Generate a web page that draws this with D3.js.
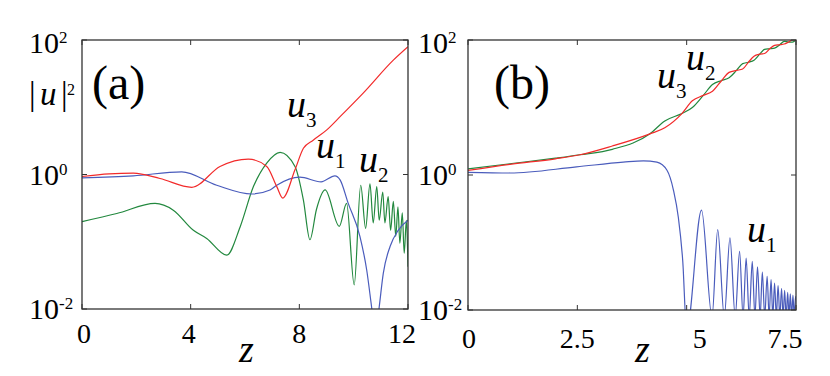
<!DOCTYPE html>
<html>
<head>
<meta charset="utf-8">
<script src="https://cdn.jsdelivr.net/npm/d3@7"></script>
</head>
<body style="margin:0">
<div id="chart"></div>
<script>
// values are [z, log10 |u|^2]
const a_u1 = [[0,-0.05],[1.89,-0.02],[3.67,0.04],[4.96,-0.16],[6.25,-0.29],[6.92,-0.23],[7.17,-0.16],
  [8.02,-0.04],[8.8,-0.11],[9.31,-0.02],[9.5,-0.08],[9.8,-0.43],[10.23,-0.92],[10.48,-1.42],
  [10.66,-1.97],[10.8,-2.4],[10.94,-1.97],[11.09,-1.47],[11.34,-1.07],[11.64,-0.83],[12,-0.68]];
const a_u2 = [[0,-0.70],[1.28,-0.58],[2.69,-0.43],[3.36,-0.53],[4.1,-0.83],[4.59,-0.95],[5.33,-1.20],
  [5.82,-0.78],[6.31,-0.18],[6.8,0.17],[7.29,0.33],[7.84,0.12],[8.15,-0.38],[8.39,-0.97],[8.63,-0.52],
  [8.95,-0.23],[9.47,-0.77],[9.74,-0.43],[10.02,-1.64],[10.26,-0.16],[10.44,-0.80],[10.6,-0.14],
  [10.72,-0.72],[10.85,-0.18],[10.94,-0.68],[11.07,-0.26],[11.15,-0.72],[11.27,-0.33],[11.36,-0.83],
  [11.46,-0.40],[11.55,-0.92],[11.63,-0.48],[11.70,-1.02],[11.79,-0.57],[11.86,-1.17],[11.94,-0.68],[12,-1.37]];
const a_u3 = [[0,-0.03],[1.0,0.01],[1.89,0.02],[2.87,-0.06],[4.04,-0.19],[5.08,0.12],[6.12,0.23],
  [6.8,0.12],[7.17,-0.18],[7.39,-0.35],[7.84,0.07],[8.15,0.39],[8.51,0.51],[9.0,0.66],[9.5,0.86],
  [10.35,1.21],[11.46,1.70],[12,1.90]];

const b_u1 = [[0,0.04],[0.96,0.03],[2.48,0.12],[3.55,0.19],[4.01,0.21],[4.32,0.19],[4.55,0.07],
  [4.70,-0.23],[4.81,-0.63],[4.91,-1.27],[5.0,-2.3],
  [5.34,-0.52],[5.58,-2.1],[5.71,-0.81],[5.86,-2.1],[5.99,-0.93],[6.11,-2.1],[6.21,-1.13],[6.29,-2.1],
  [6.36,-1.23],[6.43,-2.1],[6.50,-1.28],[6.56,-2.1],[6.62,-1.36],[6.68,-2.1],[6.73,-1.44],[6.785,-2.1],
  [6.84,-1.50],[6.885,-2.1],[6.93,-1.55],[6.97,-2.1],[7.01,-1.60],[7.05,-2.1],[7.09,-1.64],[7.13,-2.1],
  [7.17,-1.68],[7.205,-2.1],[7.24,-1.71],[7.275,-2.1],[7.31,-1.74],[7.34,-2.1],[7.37,-1.76],[7.40,-2.1],
  [7.43,-1.78],[7.46,-2.1],[7.49,-1.80],[7.5,-1.85]];
const b_u2 = [[0,0.09],[1,0.17],[2,0.25],[2.56,0.30],[3.3,0.38],[4.16,0.61],[4.5,0.80],[4.89,0.91],
  [5.13,1.00],[5.38,1.18],[5.59,1.34],[5.80,1.40],[5.97,1.44],[6.14,1.55],[6.28,1.65],[6.41,1.67],
  [6.54,1.70],[6.67,1.79],[6.78,1.86],[6.90,1.87],[7.01,1.88],[7.13,1.93],[7.23,1.98],[7.33,1.97],
  [7.42,1.97],[7.5,2.0]];
const b_u3 = [[0,0.067],[1,0.16],[2,0.24],[2.56,0.30],[3.3,0.43],[4.16,0.61],[4.5,0.70],[4.89,0.91],
  [5.13,1.10],[5.38,1.18],[5.59,1.24],[5.80,1.40],[5.97,1.52],[6.14,1.55],[6.28,1.57],[6.41,1.67],
  [6.54,1.76],[6.67,1.79],[6.78,1.80],[6.90,1.87],[7.01,1.92],[7.13,1.93],[7.23,1.94],[7.33,1.97],
  [7.42,2.0],[7.5,2.0]];

const xTicksA = [0, 4, 8, 12];
const xTicksB = [0, 2.5, 5, 7.5];
const yTicks = [1e-2, 1e0, 1e2];
const yTickExp = ["-2", "0", "2"];

const colors = { u1: "#4a5cbc", u2: "#22883e", u3: "#f22a2a" };

const width = 830, height = 376;
const svg = d3.select("#chart").append("svg")
  .attr("width", width).attr("height", height);

// plain serif text, family set on the element itself
function addText(parent, size) {
  return parent.append("text")
    .attr("font-size", size)
    .style("font-family", '"Times New Roman"');
}

function drawPanel(p) {
  const x = d3.scaleLinear().domain([0, p.xMax]).range([p.left, p.right]);
  const y = d3.scaleLog().domain([1e-2, 1e2]).range([p.bottom, p.top]);
  const g = svg.append("g");

  g.append("clipPath").attr("id", "clip" + p.id)
    .append("rect").attr("x", p.left).attr("y", p.top)
    .attr("width", p.right - p.left).attr("height", p.bottom - p.top);

  const line = d3.line()
    .x(d => x(d[0]))
    .y(d => y(Math.pow(10, d[1])))
    .curve(d3.curveMonotoneX);

  const lines = g.append("g").attr("clip-path", `url(#clip${p.id})`);
  p.series.forEach(s => {
    lines.append("path")
      .datum(s.data)
      .attr("fill", "none")
      .attr("stroke", s.color)
      .attr("stroke-width", 1.2)
      .attr("d", line);
  });

  // frame
  g.append("rect")
    .attr("x", p.left).attr("y", p.top)
    .attr("width", p.right - p.left).attr("height", p.bottom - p.top)
    .attr("fill", "none").attr("stroke", "#333").attr("stroke-width", 1.3);

  // inward ticks on all four sides
  const tl = 5;
  p.xTicks.forEach(t => {
    g.append("line").attr("x1", x(t)).attr("x2", x(t))
      .attr("y1", p.bottom).attr("y2", p.bottom - tl).attr("stroke", "#333");
    g.append("line").attr("x1", x(t)).attr("x2", x(t))
      .attr("y1", p.top).attr("y2", p.top + tl).attr("stroke", "#333");
  });
  yTicks.forEach(t => {
    g.append("line").attr("x1", p.left).attr("x2", p.left + tl)
      .attr("y1", y(t)).attr("y2", y(t)).attr("stroke", "#333");
    g.append("line").attr("x1", p.right).attr("x2", p.right - tl)
      .attr("y1", y(t)).attr("y2", y(t)).attr("stroke", "#333");
  });

  // x tick labels
  p.xTicks.forEach((t, i) => {
    addText(g, 28)
      .attr("x", x(t) + p.xLabelDx[i])
      .attr("y", p.bottom + p.xLabelDy)
      .attr("text-anchor", "middle")
      .text(t);
  });

  // y tick labels: 10 with superscript exponent
  yTicks.forEach((t, i) => {
    const txt = addText(g, 30)
      .attr("x", p.left + p.yLabelDx)
      .attr("y", y(t) + (i === 2 ? 13 : 10));
    txt.append("tspan").text("10");
    txt.append("tspan").attr("font-size", 17).attr("dy", -10).text(yTickExp[i]);
  });

  // z axis title
  addText(g, 38)
    .attr("x", p.zX).attr("y", 362)
    .attr("font-style", "italic")
    .text("z");

  // panel tag
  addText(g, 48)
    .attr("x", p.tagX).attr("y", 99)
    .text(p.tag);

  // curve labels
  p.labels.forEach(l => {
    const txt = addText(g, 38).attr("x", l.x).attr("y", l.y);
    txt.append("tspan").attr("font-style", "italic").text("u");
    txt.append("tspan").attr("font-size", 21).attr("dy", 10).text(l.n);
  });
}

drawPanel({
  id: "a", left: 82, top: 40, right: 408, bottom: 309, xMax: 12,
  xTicks: xTicksA, xLabelDx: [2, -2, 0, -6], xLabelDy: 34, yLabelDx: -53,
  zX: 239, tag: "(a)", tagX: 92,
  series: [
    { data: a_u2, color: colors.u2 },
    { data: a_u1, color: colors.u1 },
    { data: a_u3, color: colors.u3 }
  ],
  labels: [
    { x: 287, y: 117, n: "3" },
    { x: 316, y: 158, n: "1" },
    { x: 359, y: 172, n: "2" }
  ]
});

drawPanel({
  id: "b", left: 468, top: 40, right: 796, bottom: 310, xMax: 7.5,
  xTicks: xTicksB, xLabelDx: [1, 0, 13, -11], xLabelDy: 38, yLabelDx: -50,
  zX: 635, tag: "(b)", tagX: 494,
  series: [
    { data: b_u1, color: colors.u1 },
    { data: b_u2, color: colors.u2 },
    { data: b_u3, color: colors.u3 }
  ],
  labels: [
    { x: 657, y: 88, n: "3" },
    { x: 686, y: 70, n: "2" },
    { x: 747, y: 242, n: "1" }
  ]
});

// y axis title |u|^2 on panel (a)
const yt = addText(svg, 33).attr("y", 105);
yt.append("tspan").attr("x", 29).text("|");
yt.append("tspan").attr("x", 40).attr("font-style", "italic").text("u");
yt.append("tspan").attr("x", 61).text("|");
yt.append("tspan").attr("x", 67).attr("dy", -10).attr("font-size", 16).text("2");
</script>
</body>
</html>
